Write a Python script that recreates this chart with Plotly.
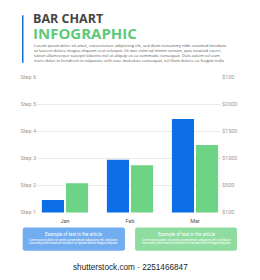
import plotly.graph_objects as go

categories = ["Jan", "Feb", "Mar"]
series_blue = [1.46, 2.95, 4.45]
series_green = [2.08, 2.74, 3.49]
step_vals = [1, 2, 3, 4, 5, 6]
step_labels = ["Step 1", "Step 2", "Step 3", "Step 4", "Step 5", "Step 6"]
money_labels = ["$100", "$500", "$1000", "$1500", "$2000", "$100"]
title1 = "BAR CHART"
title2 = "INFOGRAPHIC"
lorem_lines = [
    "Lorem ipsum dolor sit amet, consectetuer adipiscing elit, sed diam nonummy nibh euismod tincidunt",
    "ut laoreet dolore magna aliquam erat volutpat. Ut wisi enim ad minim veniam, quis nostrud exerci",
    "tation ullamcorper suscipit lobortis nisl ut aliquip ex ea commodo consequat. Duis autem vel eum",
    "iriure dolor in hendrerit in vulputate velit esse molestiae consequat, vel illum dolore eu feugiat nulla",
]
box_title = "Example of text in the article"
box_lines = [
    "Lorem ipsum dolor sit amet, consectetuer adipiscing elit, sed diam",
    "nonummy nibh euismod tincidunt ut laoreet dolore magna aliquam",
]
watermark = "shutterstock.com · 2251466847"

W, H = 260, 280
BLUE = "#0d6fe6"
GREEN = "#6dd486"

def px(x):
    return x / W

def py(y):
    return 1 - y / H

fig = go.Figure()
fig.add_trace(go.Bar(x=categories, y=series_blue, marker_color=BLUE, marker_line_width=0))
fig.add_trace(go.Bar(x=categories, y=series_green, marker_color=GREEN, marker_line_width=0))
fig.add_trace(go.Scatter(x=categories, y=[None, None, None], yaxis="y2", showlegend=False, hoverinfo="skip"))

font_fam = "Roboto, Arial, sans-serif"

fig.update_layout(
    width=W, height=H,
    margin=dict(l=0, r=0, t=0, b=0),
    paper_bgcolor="white", plot_bgcolor="white",
    showlegend=False,
    barmode="group", bargap=0.26, bargroupgap=0.08,
    xaxis=dict(domain=[px(37), px(221)], range=[-0.43, 2.40], showgrid=False, zeroline=False,
               showline=False, ticks="", ticklabelstandoff=4,
               tickfont=dict(size=5.5, color="#555", family=font_fam), fixedrange=True),
    yaxis=dict(domain=[py(214), py(75.7)], range=[1, 6], tickvals=step_vals, ticktext=step_labels,
               showgrid=True, gridcolor="#e9e9e9", gridwidth=1, zeroline=False, showline=False,
               ticks="", tickfont=dict(size=5.5, color="#9a9a9a", family=font_fam)),
    yaxis2=dict(overlaying="y", side="right", range=[1, 6], tickvals=step_vals, ticktext=money_labels,
                showgrid=False, zeroline=False, showline=False, ticks="",
                tickfont=dict(size=5.5, color="#9a9a9a", family=font_fam)),
)

shapes = []
shapes.append(dict(type="rect", xref="paper", yref="paper", x0=px(22), x1=px(23.5), y0=py(61), y1=py(12.5),
                   fillcolor="#1a6fd9", line_width=0))

def rounded(x0, y0, x1, y1, r):
    X0, X1 = px(x0), px(x1)
    Y0, Y1 = py(y1), py(y0)
    rx, ry = r / W, r / H
    return (f"M {X0+rx},{Y0} L {X1-rx},{Y0} Q {X1},{Y0} {X1},{Y0+ry} L {X1},{Y1-ry} Q {X1},{Y1} {X1-rx},{Y1} "
            f"L {X0+rx},{Y1} Q {X0},{Y1} {X0},{Y1-ry} L {X0},{Y0+ry} Q {X0},{Y0} {X0+rx},{Y0} Z")

boxes = [(22.7, 125, "#72adf0"), (135, 237, "#8fdca0")]
for x0, x1, col in boxes:
    shapes.append(dict(type="path", xref="paper", yref="paper", path=rounded(x0, 229.3, x1, 253.3, 2.5),
                       fillcolor=col, line_width=0))
fig.update_layout(shapes=shapes)

ann = []
title_text = (f"<span style='font-size:12.5px;color:#444444'><b>{title1}</b></span><br>"
              f"<span style='font-size:15px;color:#5dc97a'><b>{title2}</b></span>")
ann.append(dict(x=px(31), y=py(23.8), xref="paper", yref="paper", text=title_text, showarrow=False,
                xanchor="left", yanchor="middle", align="left",
                font=dict(size=12.2, color="#444444", family="Open Sans, sans-serif")))
for i, line in enumerate(lorem_lines):
    ann.append(dict(x=px(32), y=py(43.7 + i * 5), xref="paper", yref="paper", text=line, showarrow=False,
                    xanchor="left", yanchor="middle", font=dict(size=4.1, color="#555", family="Open Sans, sans-serif")))
for x0, x1, col in boxes:
    cx = (x0 + x1) / 2
    ann.append(dict(x=px(cx), y=py(236), xref="paper", yref="paper", text=box_title, showarrow=False,
                    xanchor="center", yanchor="middle", font=dict(size=4.5, color="white", family=font_fam)))
    for j, line in enumerate(box_lines):
        ann.append(dict(x=px(cx), y=py(242.3 + j * 3), xref="paper", yref="paper", text=line, showarrow=False,
                        xanchor="center", yanchor="middle", font=dict(size=3, color="white", family=font_fam)))
ann.append(dict(x=px(130.5), y=py(270.7), xref="paper", yref="paper", text=watermark, showarrow=False,
                xanchor="center", yanchor="middle", font=dict(size=8.2, color="#222", family="Arial, sans-serif")))
fig.update_layout(annotations=ann)

fig.write_html("out.html", config={"displayModeBar": False})
